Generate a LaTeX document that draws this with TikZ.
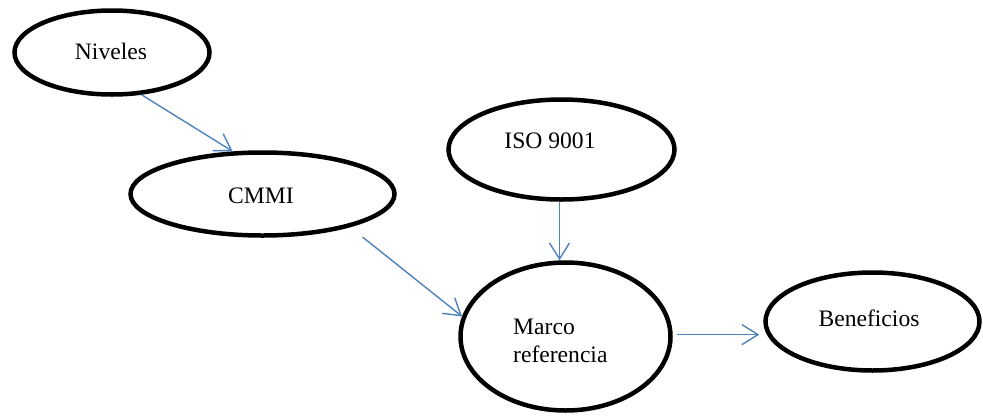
\documentclass[tikz,border=0pt]{standalone}
\usepackage{fontspec}
\setmainfont{Liberation Serif}
\usetikzlibrary{shapes.geometric,arrows.meta,calc}
\definecolor{linkblue}{HTML}{4F81BD}
\begin{document}
\begin{tikzpicture}[x=1pt,y=-1pt,
  bubble/.style={ellipse,draw=black,line width=4.5pt,inner sep=0pt},
  label/.style={inner sep=0pt,font=\fontsize{23.6}{28}\selectfont},
  link/.style={draw=linkblue,line width=1.4pt,
    -{Straight Barb[length=16pt,width=20pt,line width=1.4pt]}}]
\useasboundingbox (0,0) rectangle (983,416);

% ellipses
\node[bubble,minimum width=195pt,minimum height=84pt] (niv) at (112,52.5) {};
\node[bubble,minimum width=264pt,minimum height=83pt] (cmmi) at (262.5,194) {};
\node[bubble,minimum width=226pt,minimum height=100pt] (iso) at (561.5,149.5) {};
\node[bubble,minimum width=210pt,minimum height=148pt] (marco) at (565.5,336.5) {};
\node[bubble,minimum width=214pt,minimum height=98pt] (ben) at (872.5,321.5) {};

% texts
\node[label,anchor=base] (tniv) at (111,59) {Niveles};
\node[label,anchor=base] (tcmmi) at (261,203) {CMMI};
\node[label,anchor=base] (tiso) at (550,148) {ISO 9001};
\node[label,anchor=base west] (tmarco1) at (513,334) {Marco};
\node[label,anchor=base west] (tmarco2) at (513,362) {referencia};
\node[label,anchor=base] (tben) at (869,326) {Beneficios};

% connectors
\coordinate (cmmiout) at ($(cmmi.center)+(100,43)$);
\draw[link] (niv.-55.4) -- (cmmi.125.5);
\draw[link] (cmmiout) -- (marco.169.8);
\draw[link] ([xshift=-2pt]iso.south) -- ([xshift=-2pt]iso.south |- marco.north);
\draw[link,shorten <=4pt,shorten >=4pt] (marco.1.5) -- (marco.1.5 -| ben.west);
\end{tikzpicture}
\end{document}
